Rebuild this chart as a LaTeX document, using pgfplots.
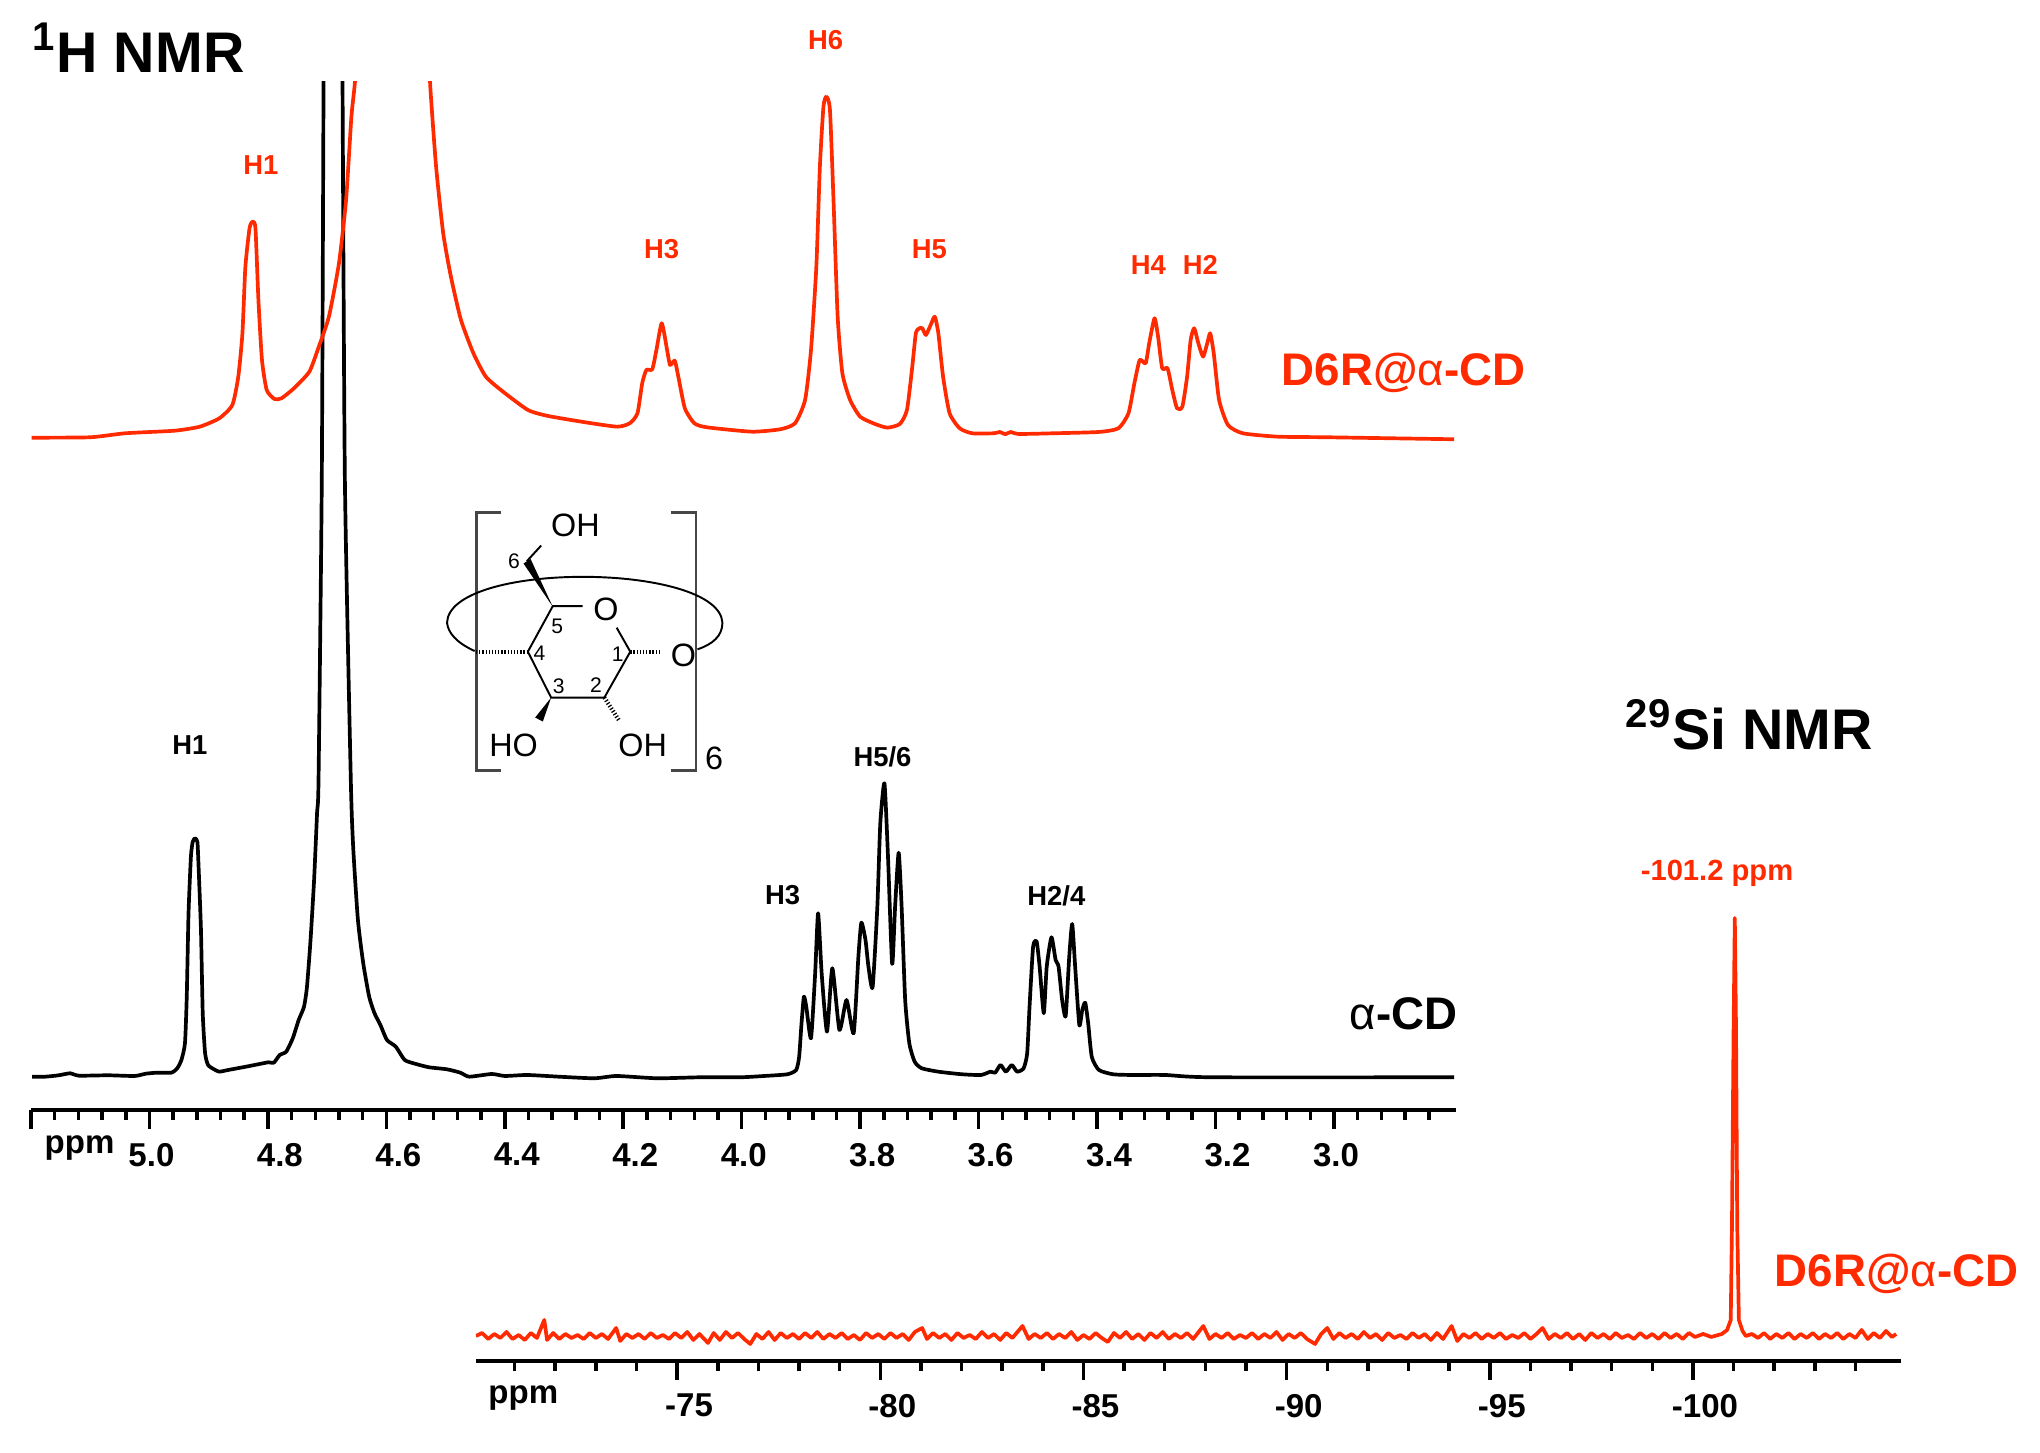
\documentclass[border=0pt]{standalone}
\usepackage{fontspec}
\setmainfont{Liberation Sans}
\usepackage{pgfplots}
\pgfplotsset{compat=1.18}
\definecolor{nmrred}{RGB}{255,42,0}
\definecolor{brk}{RGB}{70,70,70}
\newcommand{\ft}[1]{\fontsize{#1}{#1}\selectfont}
\newcommand{\bk}[1]{\hspace*{-0.2cm}#1}

\pgfplotsset{nmr/.style={
  scale only axis, clip=true,
  axis x line*=bottom, axis y line=none,
  tick align=outside,
  major tick length=0.19cm, minor tick length=0.1cm,
  axis line style={line width=1.2pt,-},
  every tick/.style={black,line width=1pt},
  minor tick style={black,line width=1pt},
  xticklabel style={font=\ft{9.4}\bfseries,xshift=0.12cm,yshift=-0.10cm,inner sep=1pt},
}}

\begin{document}
\begin{tikzpicture}
\useasboundingbox (0,0) rectangle (20.4,14.53);

% 1H spectra, y = pixels above the axis line
\begin{axis}[nmr,
  at={(0.31cm,3.43cm)}, width=14.25cm, height=10.28cm,
  x dir=reverse, xmin=2.794, xmax=5.2, ymin=0, ymax=1028,
  xtick={3.0,3.2,3.4,3.6,3.8,4.0,4.2,4.4,4.6,4.8,5.0,5.2},
  xticklabels={\bk{3.0},3.2,3.4,3.6,3.8,\bk{4.0},4.2,4.4,4.6,4.8,\bk{5.0},},
  minor xtick={2.84,2.88,...,5.17},
]
\addplot[black,line width=1.05pt,line join=round,smooth,tension=0.35] coordinates {
(5.198,33.3)(5.176,33.3)(5.153,34.7)(5.134,36.7)(5.119,34.3)(5.070,34.7)(5.025,34)(5.006,36.3)(4.987,37.3)(4.963,37.3)
(4.953,41.7)(4.946,50)(4.940,66.7)(4.937,113)(4.934,196.7)(4.930,253)(4.927,268)(4.923,271.7)(4.919,268)(4.917,243)
(4.913,180)(4.910,96.7)(4.906,56.7)(4.901,45)(4.891,40.7)(4.882,38.3)(4.867,40)(4.837,43.3)(4.814,46)(4.799,47.7)
(4.790,47.3)(4.780,55)(4.769,58.3)(4.758,71.7)(4.748,90)(4.739,103.3)(4.734,123.3)(4.728,170)(4.722,230)(4.717,296.7)
(4.7145,330)(4.709,630)(4.706,1028)(4.705,1100)
(4.675,1100)(4.674,1028)(4.670,630)(4.660,330)(4.656,263)(4.648,190)(4.639,146.7)(4.629,113.3)(4.620,96.7)(4.610,85)
(4.599,70)(4.584,63.3)(4.569,50)(4.550,46)(4.528,42.7)(4.498,40.7)(4.475,37.3)(4.460,33.3)(4.422,36)(4.400,34)
(4.362,35)(4.309,33.3)(4.249,31.7)(4.211,34)(4.143,31.7)(4.070,32.7)(4.002,32.7)(3.962,34)(3.923,35.7)(3.908,40)
(3.903,53.3)(3.899,86.7)(3.895,113.3)(3.891,103.3)(3.883,71.7)(3.876,136.7)(3.871,196.7)(3.865,136.7)(3.856,78.3)(3.847,141.7)
(3.835,80)(3.823,110)(3.811,76.7)(3.803,153.3)(3.798,187.3)(3.791,170)(3.786,143.3)(3.779,122.7)(3.771,203.3)(3.766,286.7)
(3.759,326.7)(3.753,253.3)(3.746,146)(3.741,203.3)(3.735,257.3)(3.730,203.3)(3.724,110)(3.717,66.7)(3.708,48.3)(3.696,41.7)
(3.668,38.3)(3.628,35.7)(3.596,35)(3.580,38.3)(3.572,37.3)(3.563,45)(3.554,38.3)(3.544,45)(3.535,38.3)(3.524,41.7)
(3.518,56.7)(3.514,103.3)(3.508,163.3)(3.502,168.3)(3.497,143.3)(3.490,96.7)(3.485,143.3)(3.477,172.7)(3.470,150)(3.465,143.3)
(3.459,110)(3.453,94)(3.447,153.3)(3.442,186)(3.437,143.3)(3.430,85)(3.425,100)(3.420,107.3)(3.415,86.7)(3.409,53.3)
(3.397,40)(3.373,35.7)(3.341,35)(3.285,35)(3.206,32.7)(2.797,32.7)
};
\addplot[nmrred,line width=1.05pt,line join=round,smooth,tension=0.35] coordinates {
(5.199,672.3)(5.100,672.7)(5.041,676.7)(4.957,679.3)(4.915,683.3)(4.882,691.7)(4.860,705)(4.850,733.3)(4.843,776.7)(4.838,843.3)
(4.831,881.7)(4.826,888.3)(4.821,881.7)(4.816,810)(4.810,750)(4.802,720)(4.789,711)(4.777,711.7)(4.756,721.7)(4.730,738.3)
(4.714,763.3)(4.697,793.3)(4.680,846.7)(4.668,910)(4.659,993.3)(4.653,1028.3)(4.646,1100)
(4.532,1100)(4.526,1025)(4.516,943.3)(4.504,876.7)(4.491,833.3)(4.474,790)(4.453,756.7)(4.432,733.3)(4.403,718.3)(4.361,700)
(4.327,694)(4.260,687.3)(4.210,683.3)(4.189,686.7)(4.176,696.7)(4.168,726.7)(4.161,740)(4.151,740.7)(4.144,760)(4.135,786.7)
(4.126,760)(4.121,745)(4.113,749.3)(4.107,733.3)(4.096,701.7)(4.080,686.7)(4.059,682.7)(3.983,678.3)(3.935,680.7)(3.910,686.7)
(3.893,710)(3.883,760)(3.874,843.3)(3.868,943.3)(3.862,1003.3)(3.857,1013.3)(3.851,1000)(3.845,910)(3.838,793.3)(3.830,736.7)
(3.817,710)(3.800,693.3)(3.775,686)(3.754,682.3)(3.733,686)(3.721,700)(3.712,743.3)(3.706,776.7)(3.700,781.7)(3.695,781.7)
(3.689,775)(3.681,785)(3.674,793.3)(3.668,776.7)(3.660,733.3)(3.649,696.7)(3.632,681.7)(3.611,676.7)(3.574,676.7)(3.564,678)
(3.555,675.7)(3.546,678)(3.532,676)(3.473,676.7)(3.397,678)(3.364,681.7)(3.347,696.7)(3.337,726.7)(3.328,750)(3.318,746.7)
(3.312,766.7)(3.303,791.7)(3.297,773.3)(3.290,741.7)(3.281,741.7)(3.273,720)(3.265,701.7)(3.256,703.3)(3.248,733.3)(3.242,770)
(3.236,781.7)(3.229,766.7)(3.221,753.3)(3.214,766.7)(3.209,776.7)(3.203,756.7)(3.194,710)(3.179,685)(3.154,676.7)(3.095,673.3)
(3.011,672.7)(2.797,670.7)
};
\end{axis}

% 29Si spectrum
\begin{axis}[nmr,
  at={(4.76cm,0.92cm)}, width=14.25cm, height=4.6cm,
  x dir=reverse, xmin=-105.12, xmax=-70.05, ymin=3, ymax=463,
  xtick={-70,-75,-80,-85,-90,-95,-100},
  xticklabels={,-75,-80,-85,-90,-95,-100},
  minor xtick={-71,-72,-73,-74,-76,-77,-78,-79,-81,-82,-83,-84,-86,-87,-88,-89,-91,-92,-93,-94,-96,-97,-98,-99,-101,-102,-103,-104},
]
\addplot[nmrred,line width=1.05pt,line join=round] coordinates {
(-70.05,28)(-70.2,31)(-70.35,25)(-70.5,30)(-70.65,26)(-70.8,32)(-70.95,25)(-71.1,29)(-71.25,24)(-71.4,31)(-71.55,26)(-71.73,44)
(-71.8,24)(-71.95,31)(-72.1,25)(-72.25,30)(-72.4,26)(-72.55,29)(-72.7,25)(-72.85,31)(-73,26)(-73.15,30)(-73.3,25)(-73.5,36)
(-73.6,23)(-73.75,30)(-73.9,26)(-74.05,30)(-74.2,25)(-74.35,31)(-74.5,26)(-74.65,29)(-74.8,25)(-74.95,31)(-75.1,26)(-75.25,32)
(-75.4,24)(-75.55,30)(-75.76,21)(-75.9,31)(-76.05,24)(-76.2,32)(-76.35,26)(-76.5,31)(-76.65,25)(-76.8,20)(-76.95,30)(-77.1,25)
(-77.25,32)(-77.4,24)(-77.55,31)(-77.7,26)(-77.85,30)(-78,25)(-78.15,31)(-78.3,26)(-78.45,32)(-78.6,25)(-78.75,30)(-78.9,26)
(-79.05,31)(-79.2,25)(-79.35,29)(-79.5,24)(-79.65,31)(-79.8,26)(-79.95,30)(-80.1,25)(-80.25,31)(-80.4,26)(-80.55,30)(-80.7,24)
(-80.85,32)(-81.03,36)(-81.15,25)(-81.3,31)(-81.45,26)(-81.6,30)(-81.75,24)(-81.9,31)(-82.05,26)(-82.2,29)(-82.35,25)(-82.5,32)
(-82.65,26)(-82.8,30)(-82.95,24)(-83.1,31)(-83.25,26)(-83.5,38)(-83.65,25)(-83.8,30)(-83.95,26)(-84.1,31)(-84.25,25)(-84.4,30)
(-84.55,26)(-84.7,32)(-84.85,24)(-85,29)(-85.15,25)(-85.3,31)(-85.45,26)(-85.6,22)(-85.75,31)(-85.9,26)(-86.05,32)(-86.2,25)
(-86.35,30)(-86.5,24)(-86.65,31)(-86.8,26)(-86.95,32)(-87.1,25)(-87.25,30)(-87.4,26)(-87.55,31)(-87.7,25)(-87.95,38)(-88.1,25)
(-88.25,30)(-88.4,26)(-88.55,31)(-88.7,25)(-88.85,29)(-89,26)(-89.15,31)(-89.3,25)(-89.45,30)(-89.6,26)(-89.75,32)(-89.9,24)
(-90.05,30)(-90.2,26)(-90.35,31)(-90.5,25)(-90.7,20)(-90.85,30)(-91,36)(-91.15,25)(-91.3,31)(-91.45,26)(-91.6,30)(-91.75,25)
(-91.9,32)(-92.05,26)(-92.2,30)(-92.35,24)(-92.5,31)(-92.65,26)(-92.8,29)(-92.95,25)(-93.1,31)(-93.25,26)(-93.4,30)(-93.55,24)
(-93.7,31)(-93.85,25)(-94.06,38)(-94.2,23)(-94.35,30)(-94.5,26)(-94.65,31)(-94.8,25)(-94.95,30)(-95.1,26)(-95.25,31)(-95.4,25)
(-95.55,29)(-95.7,26)(-95.85,31)(-96,25)(-96.15,30)(-96.3,36)(-96.45,25)(-96.6,30)(-96.75,26)(-96.9,31)(-97.05,25)(-97.2,30)
(-97.35,24)(-97.5,31)(-97.65,26)(-97.8,30)(-97.95,25)(-98.1,31)(-98.25,26)(-98.4,29)(-98.55,25)(-98.7,31)(-98.85,26)(-99,30)
(-99.15,25)(-99.3,31)(-99.45,26)(-99.6,30)(-99.75,25)(-99.9,31)(-100.05,27)(-100.25,30)(-100.45,27)(-100.71,30)(-100.84,34)
(-100.93,44)(-100.96,138)(-101.0,335)(-101.03,446)(-101.06,335)(-101.09,138)(-101.13,44)(-101.22,33)(-101.3,28)(-101.45,30)
(-101.6,26)(-101.75,31)(-101.9,25)(-102.05,30)(-102.2,26)(-102.35,31)(-102.5,25)(-102.65,30)(-102.8,26)(-102.95,31)(-103.1,25)
(-103.25,30)(-103.4,26)(-103.55,31)(-103.7,25)(-103.85,30)(-104,26)(-104.15,34)(-104.3,25)(-104.45,31)(-104.6,26)(-104.75,33)
(-104.9,27)(-105.0,30)
};
\end{axis}

% annotations, positions in pixels of the reference
\begin{scope}[x=0.01cm,y=-0.01cm,yshift=14.53cm]
\node[anchor=west,inner sep=0,font=\ft{16.3}\bfseries] at (32,48) {\textsuperscript{1}H NMR};
\node[anchor=west,inner sep=0,font=\ft{16.3}\bfseries] at (1626,725) {\textsuperscript{29}Si NMR};

\begin{scope}[text=nmrred,font=\ft{7.8}\bfseries,inner sep=0]
\node at (261,165) {H1};
\node at (662,249) {H3};
\node at (826,40) {H6};
\node at (930,249) {H5};
\node at (1149,265) {H4};
\node at (1201,265) {H2};
\node[font=\ft{8.3}\bfseries] at (1718,874) {-101.2 ppm};
\node[anchor=west,font=\ft{13}\bfseries] at (1282,373) {D6R@{\mdseries α}-CD};
\node[anchor=west,font=\ft{13}\bfseries] at (1775,1275) {D6R@{\mdseries α}-CD};
\end{scope}

\begin{scope}[font=\ft{7.8}\bfseries,inner sep=0]
\node at (190,746) {H1};
\node at (783,896) {H3};
\node at (883,757) {H5/6};
\node at (1057,896) {H2/4};
\node[anchor=east,font=\ft{13}\bfseries] at (1459,1014) {{\mdseries α}-CD};
\node[anchor=west,font=\ft{9.4}\bfseries] at (44,1149) {ppm};
\node[anchor=west,font=\ft{9.4}\bfseries] at (488,1399) {ppm};
\end{scope}

% structure of the glucose unit
\begin{scope}[shift={(420,490)},x=0.00333cm,y=-0.00333cm,line width=0.55pt]
\draw[brk,line width=0.75pt] (245,68)--(170,68)--(170,845)--(245,845);
\draw[brk,line width=0.75pt] (755,68)--(830,68)--(830,845)--(755,845);
\draw (165,485) .. controls (110,460) and (85,430) .. (82,400) .. controls (85,310) and (280,262) .. (490,262)
  .. controls (700,262) and (905,310) .. (910,400) .. controls (910,440) and (880,465) .. (835,480);
\draw (490,350)--(400,350)--(325,487)--(395,625)--(555,625)--(633,487)--(592,415);
\draw (322,215)--(365,168);
\fill (400,352)--(312,222)--(333,208)--cycle;
\fill (395,625)--(347,685)--(370,697)--cycle;
\draw[line width=1.2pt,dash pattern=on 0.35pt off 0.55pt] (325,487)--(165,487);
\draw[line width=1.2pt,dash pattern=on 0.35pt off 0.55pt] (633,487)--(720,487);
\draw[line width=1.2pt,dash pattern=on 0.35pt off 0.55pt] (555,625)--(600,695);
\begin{scope}[font=\ft{9.2},inner sep=0]
\node at (468,108) {OH};
\node at (560,361) {O};
\node at (793,498) {O};
\node at (282,768) {HO};
\node at (670,768) {OH};
\node at (885,808) {6};
\end{scope}
\begin{scope}[font=\ft{6},inner sep=0]
\node at (283,214) {6};
\node at (413,412) {5};
\node at (360,492) {4};
\node at (595,494) {1};
\node at (418,592) {3};
\node at (530,587) {2};
\end{scope}
\end{scope}
\end{scope}
\end{tikzpicture}
\end{document}
